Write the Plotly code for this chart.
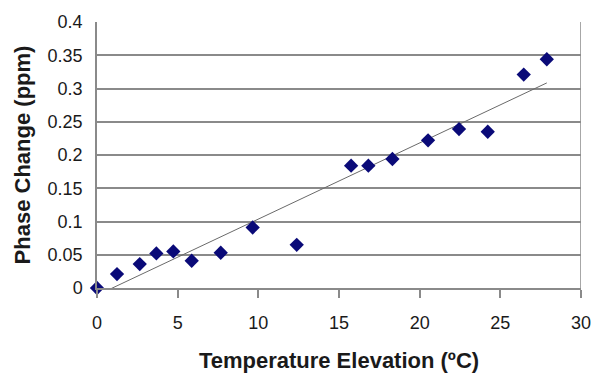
import numpy as np
import plotly.graph_objects as go

temperature = [0, 1.24, 2.65, 3.68, 4.73, 5.87, 7.67, 9.65, 12.38, 15.75, 16.82, 18.31, 20.52, 22.44, 24.22, 26.45, 27.88]
phase_change = [0.0, 0.021, 0.036, 0.052, 0.055, 0.041, 0.053, 0.091, 0.065, 0.184, 0.184, 0.194, 0.222, 0.239, 0.235, 0.321, 0.344]
x_ticks = [0, 5, 10, 15, 20, 25, 30]
y_ticks = [0, 0.05, 0.1, 0.15, 0.2, 0.25, 0.3, 0.35, 0.4]
y_tick_labels = ["0", "0.05", "0.1", "0.15", "0.2", "0.25", "0.3", "0.35", "0.4"]

slope, intercept = np.polyfit(temperature, phase_change, 1)
trend_x = [min(temperature), max(temperature)]
trend_y = [slope * v + intercept for v in trend_x]

FONT = "Liberation Sans, Arial, sans-serif"
TXT = "#1a1a1a"
GRID = "#8a8a8a"

fig = go.Figure()
fig.add_trace(go.Scatter(x=trend_x, y=trend_y, mode="lines",
                         line=dict(color="#6a6a6a", width=1), hoverinfo="skip"))
fig.add_trace(go.Scatter(x=temperature, y=phase_change, mode="markers",
                         marker=dict(symbol="diamond", size=11, color="#0a0a78"),
                         cliponaxis=False))

fig.update_layout(
    width=593, height=375,
    margin=dict(l=97, r=12, t=22, b=87),
    paper_bgcolor="white", plot_bgcolor="white",
    showlegend=False,
    font=dict(family=FONT, color=TXT),
    xaxis=dict(range=[0, 30], tickvals=x_ticks, ticks="outside", ticklen=8,
               tickcolor=GRID, tickwidth=1.5, automargin=False,
               showgrid=False, zeroline=False, showline=True, linecolor=GRID, linewidth=1.5,
               mirror=False, tickfont=dict(size=18, color=TXT), ticklabelstandoff=10,
               title=dict(text="<b>Temperature Elevation (ºC)</b>", font=dict(size=22, color=TXT), standoff=20)),
    yaxis=dict(range=[0, 0.4], tickvals=y_ticks, ticktext=y_tick_labels, ticks="",
               showgrid=True, gridcolor=GRID, gridwidth=1.5, zeroline=False, automargin=False,
               showline=True, linecolor=GRID, linewidth=1.5,
               tickfont=dict(size=18, color=TXT), ticklabelstandoff=9,
               title=dict(text="<b>Phase Change (ppm)</b>", font=dict(size=22, color=TXT), standoff=11)),
)
fig.add_shape(type="line", xref="x", yref="paper", x0=30, x1=30, y0=0, y1=1,
              line=dict(color=GRID, width=1.5))

fig.write_html("out.html", config={"displayModeBar": False},
               post_script="document.body.style.margin='0';document.body.style.overflow='hidden';")
